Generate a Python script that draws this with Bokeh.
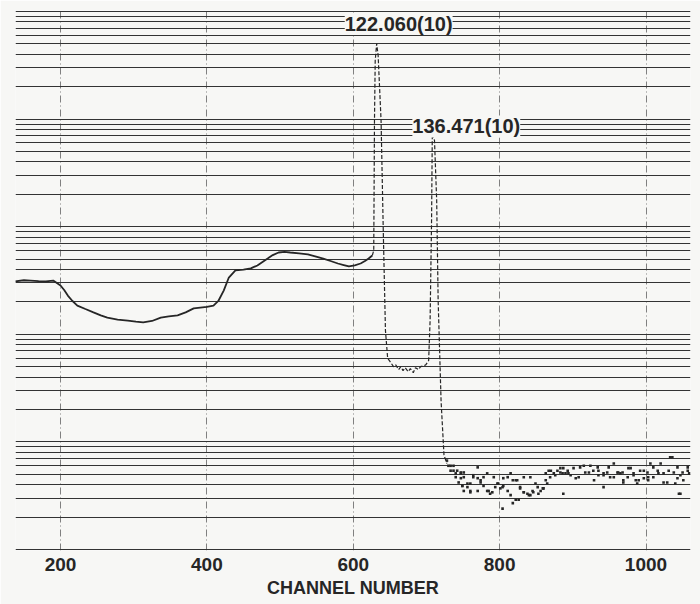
from bokeh.plotting import figure
from bokeh.models import Range1d, FixedTicker, Label, Title
from bokeh.embed import file_html
from bokeh.resources import INLINE

# ---- data ----
channel_ticks = [200, 400, 600, 800, 1000]
x_title = "CHANNEL NUMBER"

cont_ch = [138, 150, 159, 170, 180, 190, 200, 205, 210, 216, 223, 234, 245, 255, 264, 278,
           292, 303, 313, 325, 337, 348, 360, 371, 382, 391, 400, 409, 416, 423, 430, 439,
           450, 460, 469, 476, 483, 490, 498, 506, 514, 526, 538, 548, 559, 569, 579, 587,
           594, 602, 610, 616, 621, 626]
cont_counts = [310, 318, 316, 312, 310, 316, 284, 258, 229, 205, 185, 172, 160, 150, 143, 137,
               134, 131, 129, 133, 143, 147, 150, 160, 174, 177, 180, 185, 206, 255, 337, 392,
               400, 410, 436, 470, 506, 545, 576, 584, 576, 565, 552, 530, 506, 480, 455, 440,
               427, 438, 455, 480, 506, 540]

peak_ch = [626, 628, 629, 630, 632, 634, 638, 641, 644, 647, 651, 655, 658, 662, 665, 668,
           671, 675, 678, 682, 685, 689, 692, 696, 699, 703, 705, 707, 708, 711, 714, 716,
           720, 724, 728]
peak_counts = [540, 601, 9700, 35000, 50400, 39000, 9700, 922, 108, 60, 55, 50, 52, 47, 50, 46,
               49, 45, 48, 44, 49, 47, 50, 51, 52, 57, 134, 1142, 7350, 6330, 1750, 206,
               24, 7.5, 6.3]

tail_ch = [728, 730, 733, 737, 740, 742, 744, 747, 747, 749, 751, 751, 756, 760, 760, 764,
           770, 770, 774, 778, 783, 785, 790, 794, 798, 804, 804, 805, 811, 815, 818, 818,
           822, 824, 826, 828, 833, 833, 838, 842, 842, 846, 852, 856, 860, 863, 865, 867,
           869, 874, 879, 883, 886, 887, 887, 893, 897, 904, 910, 917, 924, 928, 934, 935,
           942, 942, 947, 951, 956, 961, 965, 968, 969, 975, 979, 983, 986, 988, 992, 997,
           1002, 1003, 1006, 1010, 1016, 1020, 1024, 1029, 1033, 1038, 1040, 1043, 1045, 1047,
           1051, 1057, 1059,
           733, 737, 740, 747, 751, 749, 756, 760, 764, 770, 774, 778, 783, 787, 792, 797,
           801, 805, 811, 815, 822, 828, 833, 840, 845, 849, 853, 859, 863, 870, 876, 883,
           890, 894, 901, 908, 915, 922, 929, 935, 942, 949, 956, 962, 969, 976, 983, 990,
           997, 1003, 1010, 1017, 1024, 1031, 1036, 1043, 1050, 1057, 1047]
tail_counts = [6.7, 6.0, 5.4, 6.0, 4.7, 5.4, 4.2, 5.1, 4.6, 3.9, 5.2, 3.5, 3.8, 4.1, 3.4, 4.7,
               5.8, 3.5, 4.4, 4.7, 5.1, 3.5, 3.4, 3.8, 4.1, 3.8, 2.4, 4.6, 4.7, 5.1, 4.4, 2.7,
               2.9, 4.4, 2.9, 3.7, 3.4, 4.7, 3.3, 3.2, 4.7, 3.4, 3.8, 3.5, 3.7, 5.1, 4.1, 5.4,
               4.7, 5.1, 5.4, 5.2, 5.1, 5.7, 3.3, 5.4, 4.9, 4.6, 5.8, 5.2, 6.0, 5.4, 5.8, 4.9,
               3.8, 5.1, 5.2, 4.7, 6.3, 5.2, 5.1, 5.2, 4.4, 4.7, 5.7, 5.1, 4.4, 4.1, 5.4, 4.6,
               5.2, 4.4, 6.3, 4.7, 5.4, 6.3, 5.1, 4.2, 7.2, 5.2, 4.1, 5.8, 3.3, 4.9,
               4.4, 5.4, 5.1,
               6.0, 5.4, 5.1, 5.2, 4.7, 3.9, 4.1, 3.5, 4.9, 4.6, 4.2, 3.9, 3.5, 3.3, 4.7, 4.1,
               3.7, 3.9, 3.5, 3.2, 4.4, 3.8, 3.4, 3.2, 3.5, 4.1, 3.3, 3.7, 4.4, 5.4, 4.9, 5.7,
               5.1, 5.1, 5.7, 4.7, 6.0, 5.2, 4.4, 5.4, 4.9, 5.8, 4.7, 5.2, 4.2, 5.7, 4.9, 4.4,
               5.4, 4.7, 5.8, 5.1, 4.2, 5.4, 7.2, 4.6, 5.2, 5.8, 3.3]

peak_labels = ["122.060(10)", "136.471(10)"]
label_split_channel = 680  # separates the two peaks

# ---- styling ----
FONT = "Liberation Sans"
INK = "#262626"
PAPER = "#f7f7f5"

decade_lines = [k * 10 ** n for n in range(5) for k in range(1, 10)] + [10 ** 5]

p = figure(width=700, height=604, output_backend="svg", toolbar_location=None,
           x_range=Range1d(138.5, 1060.8), y_range=Range1d(0.979, 102163),
           y_axis_type="log", y_axis_location=None,
           min_border_left=15, min_border_right=10, min_border_top=10, min_border_bottom=54,
           background_fill_color=PAPER, border_fill_color=PAPER)
p.outline_line_color = None

# horizontal log-paper lines
p.ygrid.ticker = FixedTicker(ticks=decade_lines)
p.ygrid.grid_line_color = "#333333"
p.ygrid.grid_line_width = 1.1
p.ygrid.minor_grid_line_color = None

# x axis (tick labels only)
p.xaxis.ticker = FixedTicker(ticks=channel_ticks)
p.xaxis.axis_line_color = None
p.xaxis.major_tick_line_color = None
p.xaxis.minor_tick_line_color = None
p.xaxis.major_tick_out = 0
p.xaxis.major_label_standoff = 7
p.xaxis.major_label_text_font = FONT
p.xaxis.major_label_text_font_style = "bold"
p.xaxis.major_label_text_font_size = "19px"
p.xaxis.major_label_text_color = INK

p.xgrid.ticker = FixedTicker(ticks=channel_ticks)
p.xgrid.grid_line_color = "#808080"
p.xgrid.grid_line_width = 1
p.xgrid.grid_line_dash = "7 3 1 3"

# axis title below the tick labels
p.add_layout(Title(text=x_title, align="center", offset=6, standoff=4,
                   text_font=FONT, text_font_style="bold", text_font_size="18px",
                   text_color=INK), "below")

# spectrum
p.line(cont_ch, cont_counts, line_color=INK, line_width=1.8)
p.line(peak_ch, peak_counts, line_color=INK, line_width=1.2, line_dash="4 2")
p.scatter(tail_ch, tail_counts, marker="square", size=2.6, fill_color=INK, line_color=None)

# peak labels
groups = [[(c, v) for c, v in zip(peak_ch, peak_counts) if c < label_split_channel],
          [(c, v) for c, v in zip(peak_ch, peak_counts) if c >= label_split_channel]]
offsets = [(22, 20), (34, 7)]
for txt, grp, (dx, dy) in zip(peak_labels, groups, offsets):
    pc, pv = max(grp, key=lambda t: t[1])
    p.add_layout(Label(x=pc, y=pv, x_offset=dx, y_offset=dy, text=txt,
                       text_font=FONT, text_font_style="bold", text_font_size="20px",
                       text_color=INK, text_align="center", text_baseline="middle",
                       background_fill_color=PAPER))

open("out.html", "w").write(file_html(p, INLINE))
